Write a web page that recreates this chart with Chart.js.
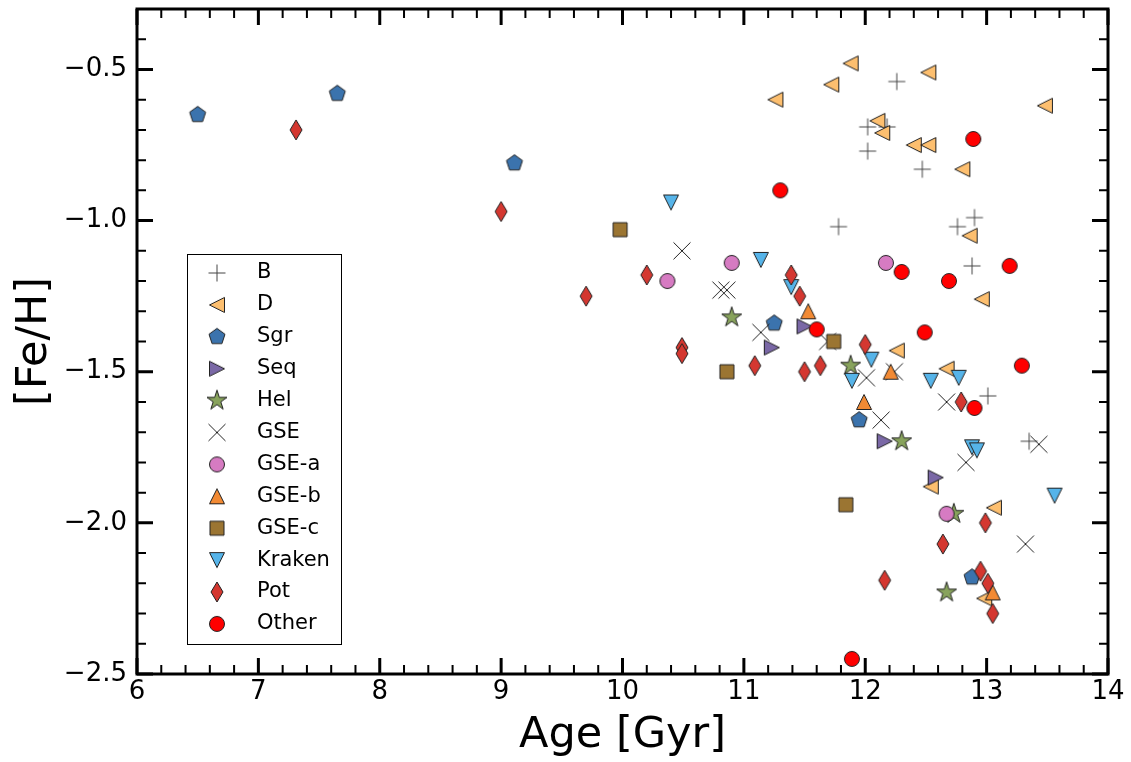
<!DOCTYPE html>
<html>
<head>
<meta charset="utf-8">
<title>[Fe/H] vs Age</title>
<script src="https://cdn.jsdelivr.net/npm/chart.js@4.4.1/dist/chart.umd.min.js"></script>
<style>
  html, body { margin: 0; padding: 0; background: #fff; }
</style>
</head>
<body>
<canvas id="chart" width="1131" height="762"></canvas>
<script>
// groups in legend order
const groups = ['B', 'D', 'Sgr', 'Seq', 'Hel', 'GSE', 'GSE-a', 'GSE-b', 'GSE-c', 'Kraken', 'Pot', 'Other'];

// age [Gyr] / [Fe/H]
const ageB = [12.26, 12.02, 12.18, 12.02, 11.78, 12.47, 12.90, 12.76, 12.88, 13.01, 13.35];
const fehB = [-0.54, -0.69, -0.69, -0.77, -1.02, -0.83, -0.99, -1.02, -1.15, -1.58, -1.73];

const ageD = [11.88, 11.72, 11.26, 12.10, 12.14, 12.52, 13.48, 12.40, 12.52, 12.80, 12.86, 12.96, 12.26, 12.67, 12.54, 13.06, 12.98];
const fehD = [-0.48, -0.55, -0.60, -0.67, -0.71, -0.51, -0.62, -0.75, -0.75, -0.83, -1.05, -1.26, -1.43, -1.49, -1.88, -1.95, -2.25];

const ageSgr = [6.50, 7.65, 9.11, 11.25, 11.95, 12.88];
const fehSgr = [-0.65, -0.58, -0.81, -1.34, -1.66, -2.18];

const ageSeq = [11.50, 11.23, 12.16, 12.58];
const fehSeq = [-1.35, -1.42, -1.73, -1.85];

const ageHel = [10.90, 11.88, 12.30, 12.73, 12.67];
const fehHel = [-1.32, -1.48, -1.73, -1.97, -2.23];

const ageGSE = [10.49, 10.81, 10.86, 11.14, 11.69, 12.01, 12.13, 12.24, 12.67, 12.83, 13.43, 13.32];
const fehGSE = [-1.10, -1.23, -1.23, -1.37, -1.40, -1.52, -1.66, -1.50, -1.60, -1.80, -1.74, -2.07];

const ageGSEa = [10.37, 10.90, 12.17, 12.67];
const fehGSEa = [-1.20, -1.14, -1.14, -1.97];

const ageGSEb = [11.53, 11.99, 12.21, 13.05];
const fehGSEb = [-1.30, -1.60, -1.50, -2.23];

const ageGSEc = [9.98, 10.86, 11.74, 11.84];
const fehGSEc = [-1.03, -1.50, -1.40, -1.94];

const ageKraken = [10.40, 11.14, 11.39, 12.05, 11.89, 12.54, 12.77, 12.88, 12.92, 13.56];
const fehKraken = [-0.94, -1.13, -1.22, -1.46, -1.53, -1.53, -1.52, -1.75, -1.76, -1.91];

const agePot = [7.31, 9.00, 9.70, 10.20, 10.49, 10.49, 11.39, 11.46, 11.09, 11.50, 11.63, 12.00, 12.79, 12.16, 12.64, 12.99, 12.95, 13.01, 13.05];
const fehPot = [-0.70, -0.97, -1.25, -1.18, -1.42, -1.44, -1.18, -1.25, -1.48, -1.50, -1.48, -1.41, -1.60, -2.19, -2.07, -2.00, -2.16, -2.20, -2.30];

const ageOther = [11.30, 12.89, 11.60, 12.30, 12.69, 13.19, 12.49, 13.29, 12.90, 11.89];
const fehOther = [-0.90, -0.73, -1.36, -1.17, -1.20, -1.15, -1.37, -1.48, -1.62, -2.45];

const ages = [ageB, ageD, ageSgr, ageSeq, ageHel, ageGSE, ageGSEa, ageGSEb, ageGSEc, ageKraken, agePot, ageOther];
const fehs = [fehB, fehD, fehSgr, fehSeq, fehHel, fehGSE, fehGSEa, fehGSEb, fehGSEc, fehKraken, fehPot, fehOther];

// tick labels
const xTicks = [6, 7, 8, 9, 10, 11, 12, 13, 14];
const yTicks = [-2.5, -2.0, -1.5, -1.0, -0.5];
const yTop = -0.3;

// marker look per group
const looks = [
  {shape: 'plus',    fill: null},
  {shape: 'left',    fill: '#fdbf6f'},
  {shape: 'pent',    fill: '#3b73ad'},
  {shape: 'right',   fill: '#7a68a6'},
  {shape: 'star',    fill: '#88a35c'},
  {shape: 'x',       fill: null},
  {shape: 'circle',  fill: '#d67bc2'},
  {shape: 'up',      fill: '#f28a34'},
  {shape: 'square',  fill: '#9b7532'},
  {shape: 'down',    fill: '#56b4e9'},
  {shape: 'diamond', fill: '#d43730'},
  {shape: 'circle',  fill: '#ff0000'}
];

const FONT = "'DejaVu Sans', 'Liberation Sans', sans-serif";

function makeMarker(shape, fill) {
  const S = 26;
  const c = document.createElement('canvas');
  c.width = S; c.height = S;
  const g = c.getContext('2d');
  g.translate(S / 2, S / 2);
  g.lineWidth = 1;
  g.strokeStyle = '#222';
  g.fillStyle = fill || '#000';
  const poly = pts => {
    g.beginPath();
    pts.forEach((p, i) => i ? g.lineTo(p[0], p[1]) : g.moveTo(p[0], p[1]));
    g.closePath();
    g.fill();
    g.stroke();
  };
  const r = 7.5;
  if (shape === 'plus') {
    g.strokeStyle = '#444';
    g.beginPath();
    g.moveTo(-8.5, 0); g.lineTo(8.5, 0);
    g.moveTo(0, -8.5); g.lineTo(0, 8.5);
    g.stroke();
  } else if (shape === 'x') {
    g.strokeStyle = '#222';
    g.beginPath();
    g.moveTo(-8.5, -8.5); g.lineTo(8.5, 8.5);
    g.moveTo(-8.5, 8.5); g.lineTo(8.5, -8.5);
    g.stroke();
  } else if (shape === 'circle') {
    g.beginPath();
    g.arc(0, 0, r, 0, Math.PI * 2);
    g.fill(); g.stroke();
  } else if (shape === 'up') {
    poly([[0, -r], [r, r], [-r, r]]);
  } else if (shape === 'down') {
    poly([[0, r], [r, -r], [-r, -r]]);
  } else if (shape === 'left') {
    poly([[-r, 0], [r, -r], [r, r]]);
  } else if (shape === 'right') {
    poly([[r, 0], [-r, -r], [-r, r]]);
  } else if (shape === 'square') {
    poly([[-7, -7], [7, -7], [7, 7], [-7, 7]]);
  } else if (shape === 'diamond') {
    poly([[0, -10], [6, 0], [0, 10], [-6, 0]]);
  } else if (shape === 'pent') {
    const pts = [];
    for (let k = 0; k < 5; k++) {
      const a = -Math.PI / 2 + k * 2 * Math.PI / 5;
      pts.push([8.4 * Math.cos(a), 8.4 * Math.sin(a)]);
    }
    poly(pts);
  } else if (shape === 'star') {
    const pts = [];
    for (let k = 0; k < 10; k++) {
      const a = -Math.PI / 2 + k * Math.PI / 5;
      const rr = k % 2 ? 4.0 : 10.5;
      pts.push([rr * Math.cos(a), rr * Math.sin(a)]);
    }
    poly(pts);
  }
  return c;
}

const markers = looks.map(l => makeMarker(l.shape, l.fill));

const datasets = groups.map((name, i) => ({
  label: name,
  data: ages[i].map((a, j) => ({x: a, y: fehs[i][j]})),
  pointStyle: markers[i],
  pointRadius: 8,
  order: groups.length - i   // later groups drawn on top, as in the original
}));

const minus = s => String(s).replace('-', '\u2212');

// frame with inward major/minor ticks on all four sides
const frameTicks = {
  id: 'frameTicks',
  afterDraw(chart) {
    const {ctx, chartArea: a, scales: {x, y}} = chart;
    ctx.save();
    ctx.strokeStyle = '#000';
    ctx.lineCap = 'butt';
    for (let i = 0; i <= 40; i++) {
      const px = x.getPixelForValue(xTicks[0] + i * 0.2);
      const major = i % 5 === 0;
      const len = major ? 16 : 9;
      ctx.lineWidth = major ? 3 : 2;
      ctx.beginPath();
      ctx.moveTo(px, a.bottom); ctx.lineTo(px, a.bottom - len);
      ctx.moveTo(px, a.top); ctx.lineTo(px, a.top + len);
      ctx.stroke();
    }
    for (let i = 0; i <= 22; i++) {
      const py = y.getPixelForValue(yTicks[0] + i * 0.1);
      const major = i % 5 === 0;
      const len = major ? 16 : 9;
      ctx.lineWidth = major ? 3 : 2;
      ctx.beginPath();
      ctx.moveTo(a.left, py); ctx.lineTo(a.left + len, py);
      ctx.moveTo(a.right, py); ctx.lineTo(a.right - len, py);
      ctx.stroke();
    }
    ctx.lineWidth = 3;
    ctx.strokeRect(a.left, a.top, a.right - a.left, a.bottom - a.top);
    ctx.restore();
  }
};

// boxed legend inside the axes, lower left
const boxLegend = {
  id: 'boxLegend',
  afterDraw(chart) {
    const {ctx, chartArea: a} = chart;
    const left = a.left + 50, top = a.top + 245, w = 154, h = 390;
    ctx.save();
    ctx.fillStyle = '#fff';
    ctx.fillRect(left, top, w, h);
    ctx.strokeStyle = '#000';
    ctx.lineWidth = 1;
    ctx.strokeRect(left + 0.5, top + 0.5, w, h);
    ctx.font = '21px ' + FONT;
    ctx.fillStyle = '#000';
    ctx.textBaseline = 'middle';
    groups.forEach((name, i) => {
      const yy = top + 19 + i * 31.9;
      const m = markers[i];
      ctx.drawImage(m, left + 30 - m.width / 2, yy - m.height / 2);
      ctx.fillText(name, left + 70, yy);
    });
    ctx.restore();
  }
};

new Chart(document.getElementById('chart'), {
  type: 'scatter',
  data: {datasets},
  plugins: [frameTicks, boxLegend],
  options: {
    responsive: false,
    animation: false,
    events: [],
    layout: {padding: {left: 0, right: 23, top: 6, bottom: 0}},
    plugins: {legend: {display: false}, tooltip: {enabled: false}},
    scales: {
      x: {
        type: 'linear',
        min: xTicks[0],
        max: xTicks[xTicks.length - 1],
        afterBuildTicks: s => { s.ticks = xTicks.map(v => ({value: v})); },
        afterFit: s => { s.height = 88; s.paddingLeft = 0; s.paddingRight = 0; },
        grid: {display: false, drawTicks: false},
        border: {display: false},
        ticks: {color: '#000', padding: 3, font: {family: FONT, size: 26}, maxRotation: 0,
                callback: v => minus(v)},
        title: {display: true, text: 'Age [Gyr]', color: '#000',
                font: {family: FONT, size: 43}, padding: {top: 0, bottom: 0}}
      },
      y: {
        type: 'linear',
        min: yTicks[0],
        max: yTop,
        afterBuildTicks: s => { s.ticks = yTicks.map(v => ({value: v})); },
        afterFit: s => { s.width = 137; s.paddingTop = 0; s.paddingBottom = 0; },
        grid: {display: false, drawTicks: false},
        border: {display: false},
        ticks: {color: '#000', padding: 10, font: {family: FONT, size: 26},
                callback: v => minus(v.toFixed(1))},
        title: {display: true, text: '[Fe/H]', color: '#000',
                font: {family: FONT, size: 43}, padding: {top: 9, bottom: 0}}
      }
    }
  }
});
</script>
</body>
</html>
